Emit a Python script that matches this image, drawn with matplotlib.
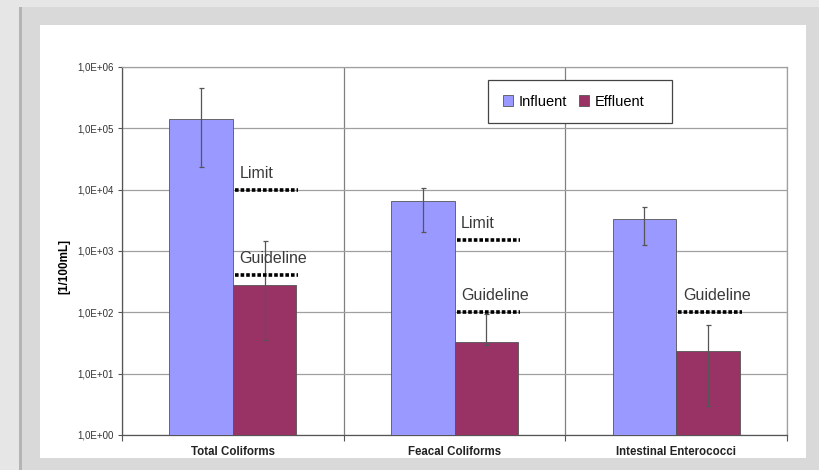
import numpy as np
import matplotlib.pyplot as plt
from matplotlib.patches import Rectangle
from matplotlib.ticker import FixedLocator, FuncFormatter, NullLocator

plt.rcParams["font.family"] = ["Liberation Sans", "DejaVu Sans"]

# Datos (UFC / 100 mL)
categorias = ["Total Coliforms", "Feacal Coliforms", "Intestinal Enterococci"]
influente = [1.4e5, 6.5e3, 3.3e3]
influente_min = [2.3e4, 2.05e3, 1.25e3]
influente_max = [4.5e5, 1.07e4, 5.3e3]
efluente = [280, 33, 23]
efluente_min = [35, 29, 2.95]
efluente_max = [1480, 95, 61]
limites = [1e4, 1.5e3, None]
guias = [400, 100, 100]

COLOR_INF = "#9999ff"
COLOR_EFL = "#993366"
ANCHO, ALTO = 820, 470


def rect_px(x0, y0, x1, y1, color):
    """Rectángulo en píxeles de la figura (origen arriba a la izquierda)."""
    return Rectangle(
        (x0 / ANCHO, 1 - y1 / ALTO),
        (x1 - x0) / ANCHO,
        (y1 - y0) / ALTO,
        transform=fig.transFigure,
        facecolor=color,
        edgecolor="none",
        zorder=-10,
    )


fig = plt.figure(figsize=(8.2, 4.7), dpi=100, facecolor="#e6e6e6")

# Marco gris y área blanca del gráfico
fig.patches.append(rect_px(19, 7, 820, 470, "#d9d9d9"))
fig.patches.append(rect_px(19, 7, 22, 470, "#b4b4b4"))
fig.patches.append(rect_px(40, 25, 806, 458, "white"))

ax = fig.add_axes([122 / ANCHO, 1 - 435 / ALTO, 665 / ANCHO, 368 / ALTO])
ax.set_facecolor("white")

x = np.arange(len(categorias))
w = 0.286

inf = np.array(influente)
efl = np.array(efluente)
err_inf = [inf - np.array(influente_min), np.array(influente_max) - inf]
err_efl = [efl - np.array(efluente_min), np.array(efluente_max) - efl]

estilo_err = dict(ecolor="#555555", elinewidth=0.9, capsize=1.8, capthick=0.9)

ax.bar(x - w / 2, inf, w, color=COLOR_INF, edgecolor="#555555",
       linewidth=0.6, label="Influent", zorder=3,
       yerr=err_inf, error_kw=estilo_err)
ax.bar(x + w / 2, efl, w, color=COLOR_EFL, edgecolor="#555555",
       linewidth=0.6, label="Effluent", zorder=3,
       yerr=err_efl, error_kw=estilo_err)

# Líneas punteadas de límite y guía
puntos = (0, (1, 0.55))
for i in range(len(categorias)):
    for valor, texto in ((limites[i], "Limit"), (guias[i], "Guideline")):
        if valor is None:
            continue
        ax.hlines(valor, x[i] + 0.01, x[i] + 0.295, colors="black",
                  linewidth=2.6, linestyles=[puntos], zorder=5)
        ax.text(x[i] + 0.03, valor * 10 ** 0.27, texto, fontsize=11.5,
                color="#3a3a3a", va="center", ha="left", zorder=5)

# Ejes
ax.set_yscale("log")
ax.set_ylim(1, 1e6)
ax.set_xlim(-0.5, len(categorias) - 0.5)

ax.yaxis.set_major_locator(FixedLocator([10.0 ** k for k in range(7)]))
ax.yaxis.set_minor_locator(NullLocator())
ax.yaxis.set_major_formatter(
    FuncFormatter(lambda v, p: "1,0E+%02d" % int(round(np.log10(v))))
)
ax.tick_params(axis="y", which="major", length=3, width=0.8,
               color="#555555", labelsize=7, labelcolor="#333333", pad=3)
ax.grid(axis="y", which="major", color="#a0a0a0", linewidth=0.9, zorder=0)

ax.set_xticks(x)
ax.set_xticklabels(categorias, fontsize=8.3, fontweight="bold",
                   color="#222222")
ax.tick_params(axis="x", which="major", length=0, pad=8)
ax.set_xticks(np.arange(-0.5, len(categorias)), minor=True)
ax.tick_params(axis="x", which="minor", length=4, width=0.8,
               color="#555555")
ax.grid(axis="x", which="minor", color="#808080", linewidth=0.9, zorder=0)
ax.set_axisbelow(True)

for lado in ("left", "bottom"):
    ax.spines[lado].set_color("#555555")
    ax.spines[lado].set_linewidth(0.9)
for lado in ("top", "right"):
    ax.spines[lado].set_color("#a0a0a0")
    ax.spines[lado].set_linewidth(0.9)

ax.set_ylabel("[1/100mL]", fontsize=8.5, fontweight="bold")
ax.yaxis.set_label_coords(-0.078, 0.459)

# Caja de la leyenda (más ancha que el contenido, como en Excel)
ax.add_patch(Rectangle((0.550, 0.848), 0.277, 0.117, transform=ax.transAxes,
                       facecolor="white", edgecolor="#444444",
                       linewidth=0.9, zorder=6))
leyenda = ax.legend(
    loc="center left",
    bbox_to_anchor=(0.573, 0.906),
    ncol=2,
    fontsize=10.5,
    frameon=False,
    handlelength=0.7,
    handleheight=0.7,
    handletextpad=0.4,
    columnspacing=0.8,
    borderpad=0,
    borderaxespad=0,
)
leyenda.set_zorder(7)

fig.savefig("out.png", dpi=100, facecolor=fig.get_facecolor())
